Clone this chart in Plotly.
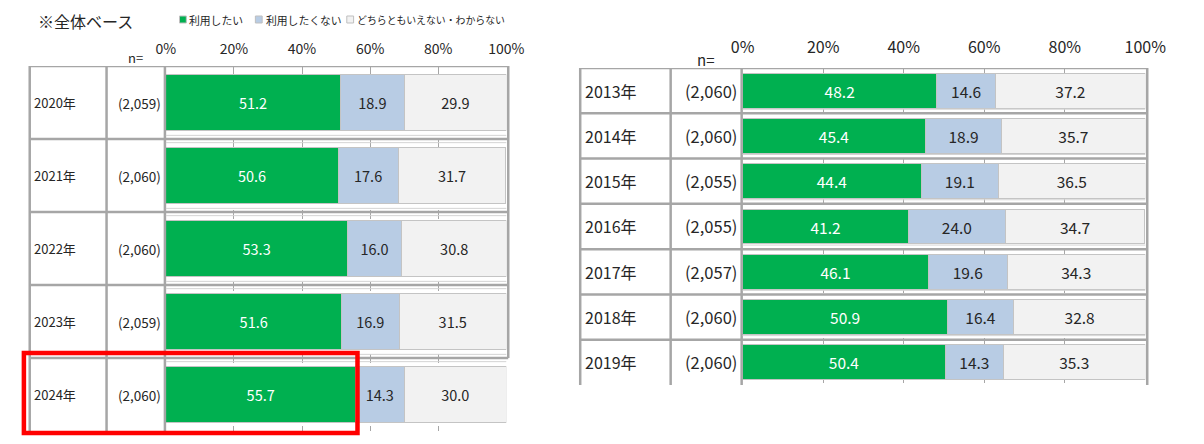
import plotly.graph_objects as go

W, H = 1204, 444
OFF = 8  # page body margin: the figure is drawn 8px right/down in the window
FONT = "Noto Sans CJK JP"

# ---------------- data ----------------
series_names = ["利用したい", "利用したくない", "どちらともいえない・わからない"]
series_colors = ["#00B050", "#B8CCE4", "#F2F2F2"]
label_colors = ["#FFFFFF", "#262626", "#262626"]

left_years = ["2020年", "2021年", "2022年", "2023年", "2024年"]
left_n = ["(2,059)", "(2,060)", "(2,060)", "(2,059)", "(2,060)"]
left_want = [51.2, 50.6, 53.3, 51.6, 55.7]
left_not = [18.9, 17.6, 16.0, 16.9, 14.3]
left_unsure = [29.9, 31.7, 30.8, 31.5, 30.0]

right_years = ["2013年", "2014年", "2015年", "2016年", "2017年", "2018年", "2019年"]
right_n = ["(2,060)", "(2,060)", "(2,055)", "(2,055)", "(2,057)", "(2,060)", "(2,060)"]
right_want = [48.2, 45.4, 44.4, 41.2, 46.1, 50.9, 50.4]
right_not = [14.6, 18.9, 19.1, 24.0, 19.6, 16.4, 14.3]
right_unsure = [37.2, 35.7, 36.5, 34.7, 34.3, 32.8, 35.3]

tick_vals = [0, 20, 40, 60, 80, 100]
tick_text = ["0%", "20%", "40%", "60%", "80%", "100%"]

title_text = "※全体ベース"
n_label = "n="


def px(x):
    return (x - OFF) / W


def py(y):
    return 1 - (y - OFF) / H


fig = go.Figure()

panels = [
    dict(years=left_years, vals=[left_want, left_not, left_unsure], xa="x", ya="y", fs=14.5),
    dict(years=right_years, vals=[right_want, right_not, right_unsure], xa="x2", ya="y2", fs=15.5),
]

for p in panels:
    for name, vals, col, tcol in zip(series_names, p["vals"], series_colors, label_colors):
        fig.add_trace(go.Bar(
            name=name, orientation="h", x=vals, y=p["years"],
            xaxis=p["xa"], yaxis=p["ya"],
            marker=dict(color=col, line=dict(color="#C4C4C4", width=1)),
            text=[f"{v:.1f}" for v in vals], textposition="inside",
            insidetextanchor="middle", textangle=0, constraintext="none",
            textfont=dict(family=FONT, size=p["fs"], color=tcol),
            showlegend=False, hoverinfo="x+y+name",
        ))

# geometry (window pixels of the reference)
L_top, L_bot = 66, 431
R_top, R_bot = 68, 385
L_x0, L_x1 = 158, 508
R_x0, R_x1 = 751, 1165

axis_common = dict(range=[0, 100], side="top", tickmode="array", tickvals=tick_vals,
                   ticktext=tick_text, showgrid=True, gridcolor="#A6A6A6", griddash="dash",
                   gridwidth=1, zeroline=False, showline=False, ticks="", fixedrange=True)

fig.update_layout(
    width=W, height=H, margin=dict(l=0, r=0, t=0, b=0),
    paper_bgcolor="white", plot_bgcolor="rgba(0,0,0,0)",
    barmode="stack", bargap=0.23,
    font=dict(family=FONT, color="#262626"),
    xaxis=dict(domain=[px(L_x0), px(L_x1)], anchor="y",
               tickfont=dict(family=FONT, size=14, color="#262626"),
               ticklabelstandoff=8, **axis_common),
    yaxis=dict(domain=[py(L_bot), py(L_top)], anchor="x", type="category",
               categoryorder="array", categoryarray=left_years,
               range=[len(left_years) - 0.5, -0.5], showticklabels=False,
               showgrid=False, zeroline=False, fixedrange=True),
    xaxis2=dict(domain=[px(R_x0), px(R_x1)], anchor="y2",
                tickfont=dict(family=FONT, size=16, color="#262626"),
                ticklabelstandoff=11, **axis_common),
    yaxis2=dict(domain=[py(R_bot), py(R_top)], anchor="x2", type="category",
                categoryorder="array", categoryarray=right_years,
                range=[len(right_years) - 0.5, -0.5], showticklabels=False,
                showgrid=False, zeroline=False, fixedrange=True),
)

shapes = []
annotations = []
GRAY = "#A6A6A6"
LIGHT = "#D4D4D4"

# ---- left table ----
for x in [18, 97, 157]:
    shapes.append(dict(type="line", xref="paper", yref="paper", x0=px(x), x1=px(x),
                       y0=py(L_top), y1=py(L_bot), line=dict(color=GRAY, width=2.5)))
shapes.append(dict(type="line", xref="paper", yref="paper", x0=px(510), x1=px(510),
                   y0=py(L_top), y1=py(358), line=dict(color=GRAY, width=2.5)))
for i in range(len(left_years)):
    yv = i - 0.5
    shapes.append(dict(type="line", xref="paper", yref="y", x0=px(18), x1=px(510),
                       y0=yv, y1=yv, line=dict(color=GRAY, width=2.5)))
    if i > 0:
        for d in (-0.05, 0.05):
            shapes.append(dict(type="line", xref="paper", yref="y", x0=px(L_x0), x1=px(L_x1),
                               y0=yv + d, y1=yv + d, line=dict(color=LIGHT, width=1)))

# ---- right table ----
for x in [584, 677, 750, 1167]:
    shapes.append(dict(type="line", xref="paper", yref="paper", x0=px(x), x1=px(x),
                       y0=py(R_top), y1=py(R_bot), line=dict(color=GRAY, width=2.5)))
for i in range(len(right_years)):
    yv = i - 0.5
    shapes.append(dict(type="line", xref="paper", yref="y2", x0=px(584), x1=px(1167),
                       y0=yv, y1=yv, line=dict(color=GRAY, width=2.5)))
    if i > 0:
        shapes.append(dict(type="line", xref="paper", yref="y2", x0=px(R_x0), x1=px(R_x1),
                           y0=yv - 0.09, y1=yv - 0.09, line=dict(color=LIGHT, width=1)))

# ---- red highlight box around 2024 row ----
shapes.append(dict(type="rect", xref="paper", yref="paper", x0=px(12), x1=px(355),
                   y0=py(433), y1=py(353), line=dict(color="#FF0000", width=4.5),
                   fillcolor="rgba(0,0,0,0)", layer="above"))

# ---- legend (squares + text) ----
legend_pos = [(172, 180, 10.8), (250, 259, 10.8), (344, 352, 9.9)]
for (sx, tx, fs), name, col in zip(legend_pos, series_names, series_colors):
    shapes.append(dict(type="rect", xref="paper", yref="paper", x0=px(sx), x1=px(sx + 7),
                       y0=py(23), y1=py(16), fillcolor=col,
                       line=dict(color="#BFBFBF", width=1)))
    annotations.append(dict(text=name, xref="paper", yref="paper", x=px(tx), y=py(19.5),
                            xanchor="left", yanchor="middle", showarrow=False,
                            font=dict(family=FONT, size=fs, color="#262626")))

annotations.append(dict(text=title_text, xref="paper", yref="paper", x=px(24), y=py(21),
                        xanchor="left", yanchor="middle", showarrow=False,
                        font=dict(family=FONT, size=16, color="#262626")))

annotations.append(dict(text=n_label, xref="paper", yref="paper", x=px(117), y=py(58),
                        xanchor="left", yanchor="middle", showarrow=False,
                        font=dict(family=FONT, size=13, color="#262626")))
annotations.append(dict(text=n_label, xref="paper", yref="paper", x=px(702), y=py(59),
                        xanchor="left", yanchor="middle", showarrow=False,
                        font=dict(family=FONT, size=15, color="#262626")))

for yr, n in zip(left_years, left_n):
    annotations.append(dict(text=yr, xref="paper", yref="y", x=px(20), y=yr,
                            xanchor="left", yanchor="middle", showarrow=False,
                            font=dict(family=FONT, size=13, color="#262626")))
    annotations.append(dict(text=n, xref="paper", yref="y", x=px(155.5), y=yr,
                            xanchor="right", yanchor="middle", showarrow=False,
                            font=dict(family=FONT, size=13.5, color="#262626")))
for yr, n in zip(right_years, right_n):
    annotations.append(dict(text=yr, xref="paper", yref="y2", x=px(587), y=yr,
                            xanchor="left", yanchor="middle", showarrow=False,
                            font=dict(family=FONT, size=16, color="#262626")))
    annotations.append(dict(text=n, xref="paper", yref="y2", x=px(747), y=yr,
                            xanchor="right", yanchor="middle", showarrow=False,
                            font=dict(family=FONT, size=16.5, color="#262626")))

fig.update_layout(shapes=shapes, annotations=annotations)
fig.write_html("out.html")
